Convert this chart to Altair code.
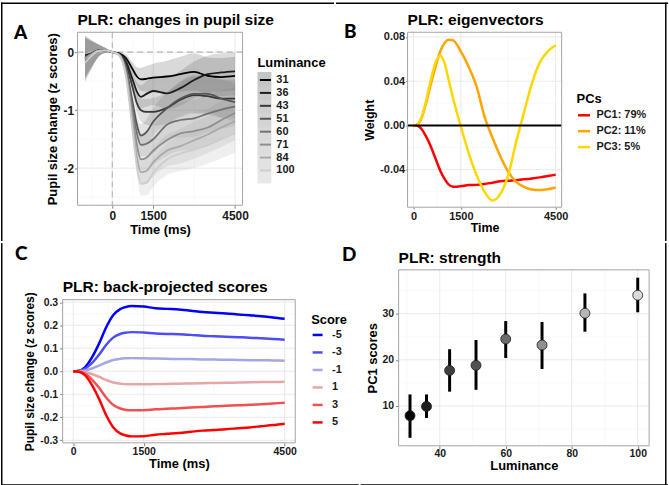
import altair as alt
import pandas as pd

FONT = "Liberation Sans"
LETTER_FONT = "Lato"

# ---------------- Panel A: changes in pupil size ----------------
a_time = [-1000, -750, -500, -250, 0, 250, 500, 750, 900, 1050, 1250, 1500, 2000, 2500, 3000, 3500, 4000, 4500]
a_luminance = ["31", "36", "43", "51", "60", "71", "84", "100"]
a_31 = [-0.06, -0.02, 0.03, 0.03, 0.00, -0.02, -0.10, -0.30, -0.42, -0.47, -0.46, -0.44, -0.42, -0.38, -0.34, -0.41, -0.43, -0.41]
a_36 = [-0.10, -0.03, 0.03, 0.03, 0.00, -0.03, -0.16, -0.48, -0.68, -0.77, -0.72, -0.67, -0.71, -0.62, -0.48, -0.38, -0.35, -0.33]
a_43 = [-0.12, -0.04, 0.02, 0.03, 0.00, -0.03, -0.20, -0.62, -0.88, -1.00, -1.03, -1.03, -0.96, -0.82, -0.74, -0.76, -0.80, -0.80]
a_51 = [-0.08, -0.02, 0.03, 0.03, 0.00, -0.04, -0.28, -0.88, -1.25, -1.44, -1.38, -1.20, -0.97, -0.80, -0.72, -0.72, -0.80, -0.86]
a_60 = [-0.15, -0.05, 0.02, 0.03, 0.00, -0.04, -0.30, -0.98, -1.40, -1.60, -1.58, -1.50, -1.25, -1.17, -1.14, -1.06, -0.99, -0.94]
a_71 = [-0.10, -0.03, 0.03, 0.03, 0.00, -0.05, -0.34, -1.12, -1.60, -1.85, -1.82, -1.70, -1.52, -1.40, -1.36, -1.30, -1.17, -1.05]
a_84 = [-0.12, -0.04, 0.02, 0.03, 0.00, -0.05, -0.38, -1.25, -1.80, -2.07, -2.05, -1.90, -1.70, -1.62, -1.52, -1.42, -1.30, -1.19]
a_100 = [-0.18, -0.06, 0.02, 0.03, 0.00, -0.05, -0.42, -1.38, -1.97, -2.27, -2.25, -2.08, -1.85, -1.75, -1.68, -1.60, -1.50, -1.40]
a_band_halfwidth = [0.35, 0.22, 0.10, 0.04, 0.00, 0.02, 0.06, 0.12, 0.16, 0.20, 0.22, 0.24, 0.27, 0.30, 0.32, 0.32, 0.33, 0.33]
a_line_colors = ["#000000", "#1c1c1c", "#383838", "#555555", "#717171", "#8e8e8e", "#aaaaaa", "#cdcdcd"]
a_band_colors = ["#404040", "#505050", "#606060", "#707070", "#808080", "#909090", "#a0a0a0", "#b0b0b0"]
a_x_ticks = [0, 1500, 4500]
a_x_minor = [-750, 750, 3000]
a_y_ticks = [-2, -1, 0]
a_y_minor = [-2.5, -1.5, -0.5]

# ---------------- Panel B: eigenvectors ----------------
b_time = [0, 100, 250, 400, 550, 700, 850, 1000, 1100, 1250, 1500, 1750, 2000, 2250, 2500, 2750, 3000, 3250, 3500, 3750, 4000, 4250, 4500]
b_pc1 = [0, 0, -0.003, -0.010, -0.019, -0.030, -0.041, -0.049, -0.053, -0.0555, -0.055, -0.054, -0.0538, -0.053, -0.0518, -0.0506, -0.050, -0.0495, -0.0488, -0.048, -0.047, -0.0458, -0.0446]
b_pc2 = [0, 0.0005, 0.006, 0.020, 0.037, 0.053, 0.067, 0.075, 0.0775, 0.077, 0.067, 0.053, 0.035, 0.008, -0.011, -0.028, -0.042, -0.051, -0.0555, -0.058, -0.0585, -0.0578, -0.0562]
b_pc3 = [0, 0.0005, 0.007, 0.022, 0.041, 0.057, 0.0633, 0.055, 0.043, 0.025, -0.001, -0.025, -0.045, -0.060, -0.068, -0.062, -0.045, -0.015, 0.012, 0.038, 0.057, 0.067, 0.0725]
b_labels = ["PC1: 79%", "PC2: 11%", "PC3: 5%"]
b_colors = ["#ff0000", "#ffa500", "#ffd700"]
b_x_ticks = [0, 1500, 4500]
b_x_minor = [750, 3000]
b_y_ticks = [-0.04, 0.0, 0.04, 0.08]
b_y_minor = [-0.06, -0.02, 0.02, 0.06]

# ---------------- Panel C: back-projected scores ----------------
c_time = [0, 100, 250, 400, 550, 700, 850, 1000, 1100, 1250, 1500, 1750, 2000, 2250, 2500, 2750, 3000, 3250, 3500, 3750, 4000, 4250, 4500]
c_scores = ["-5", "-3", "-1", "1", "3", "5"]
c_m5 = [0, 0.001, 0.017, 0.060, 0.120, 0.190, 0.243, 0.270, 0.278, 0.284, 0.281, 0.274, 0.271, 0.268, 0.263, 0.257, 0.254, 0.251, 0.247, 0.243, 0.239, 0.234, 0.228]
c_m3 = [0, 0.001, 0.010, 0.036, 0.072, 0.114, 0.146, 0.162, 0.167, 0.170, 0.168, 0.164, 0.162, 0.161, 0.158, 0.154, 0.152, 0.150, 0.148, 0.146, 0.143, 0.140, 0.137]
c_m1 = [0, 0.000, 0.003, 0.012, 0.024, 0.038, 0.049, 0.054, 0.056, 0.057, 0.056, 0.055, 0.054, 0.053, 0.053, 0.051, 0.051, 0.050, 0.049, 0.048, 0.048, 0.047, 0.046]
c_p1 = [0, 0.000, -0.003, -0.012, -0.024, -0.038, -0.049, -0.054, -0.056, -0.057, -0.057, -0.056, -0.055, -0.054, -0.053, -0.052, -0.051, -0.050, -0.049, -0.048, -0.047, -0.047, -0.046]
c_p3 = [0, -0.001, -0.010, -0.036, -0.072, -0.114, -0.146, -0.162, -0.167, -0.170, -0.169, -0.165, -0.163, -0.161, -0.158, -0.155, -0.152, -0.150, -0.148, -0.146, -0.143, -0.140, -0.137]
c_p5 = [0, -0.001, -0.017, -0.060, -0.120, -0.190, -0.243, -0.270, -0.278, -0.283, -0.282, -0.276, -0.272, -0.268, -0.263, -0.258, -0.255, -0.252, -0.248, -0.244, -0.239, -0.234, -0.228]
c_colors = ["#0000ff", "#4d4df5", "#a6a6e6", "#e6a6a6", "#f05050", "#ff0000"]
c_x_ticks = [0, 1500, 4500]
c_x_minor = [750, 3000]
c_y_ticks = [-0.3, -0.2, -0.1, 0.0, 0.1, 0.2, 0.3]
c_y_minor = [-0.25, -0.15, -0.05, 0.05, 0.15, 0.25]

# ---------------- Panel D: strength ----------------
d_luminance = [31, 36, 43, 51, 60, 71, 84, 100]
d_score = [7.9, 9.9, 17.7, 18.8, 24.5, 23.2, 30.1, 34.0]
d_low = [3.1, 7.4, 13.1, 13.5, 20.4, 18.0, 26.1, 30.3]
d_high = [12.5, 12.5, 22.3, 24.3, 28.4, 28.2, 34.4, 37.8]
d_fill = ["#050505", "#1f1f1f", "#3f3f3f", "#525252", "#6b6b6b", "#909090", "#b6b6b6", "#dadada"]
d_x_ticks = [40, 60, 80, 100]
d_x_minor = [30, 50, 70, 90]
d_y_ticks = [10, 20, 30]
d_y_minor = [5, 15, 25, 35]

# ---------------- tables ----------------
a_series = [a_31, a_36, a_43, a_51, a_60, a_71, a_84, a_100]
a_rows = []
for lum, ys in zip(a_luminance, a_series):
    for t, y, hw in zip(a_time, ys, a_band_halfwidth):
        a_rows.append({"time": t, "lum": lum, "band": lum, "z": y, "lo": y - hw, "hi": y + hw})
a_df = pd.DataFrame(a_rows)

b_rows = []
for lab, ys in zip(b_labels, [b_pc1, b_pc2, b_pc3]):
    for t, y in zip(b_time, ys):
        b_rows.append({"time": t, "pc": lab, "w": y})
b_df = pd.DataFrame(b_rows)

c_rows = []
for s, ys in zip(c_scores, [c_m5, c_m3, c_m1, c_p1, c_p3, c_p5]):
    for t, y in zip(c_time, ys):
        c_rows.append({"time": t, "score": s, "v": y})
c_df = pd.DataFrame(c_rows)

d_df = pd.DataFrame({"lum": d_luminance, "lumc": [str(v) for v in d_luminance],
                     "score": d_score, "lo": d_low, "hi": d_high})

one = pd.DataFrame({"k": [0]})


# ---------------- helpers ----------------
def axis(title, values, offset, fmt=None, label_size=11, title_size=13, label_pad=2,
         title_pad=3, tick=3):
    kw = dict(title=title, values=values, offset=offset, grid=False, domain=False, ticks=True,
              tickColor="#7f7f7f", tickSize=tick, tickWidth=1,
              labelFont=FONT, labelFontWeight="bold", labelFontSize=label_size, labelColor="#1a1a1a",
              labelPadding=label_pad, labelFlush=False,
              titleFont=FONT, titleFontWeight="bold", titleFontSize=title_size, titleColor="black",
              titlePadding=title_pad)
    if fmt:
        kw["format"] = fmt
    return alt.Axis(**kw)


def hedge(x1, x2, y):
    return alt.Chart(one).mark_rule(color="black", strokeWidth=1.5).encode(
        x=alt.value(x1), x2=alt.value(x2), y=alt.value(y))


def vedge(x, y1, y2):
    return alt.Chart(one).mark_rule(color="black", strokeWidth=1.5).encode(
        x=alt.value(x), y=alt.value(y1), y2=alt.value(y2))


def text_at(txt, x, y, size, font=FONT, weight="bold"):
    return alt.Chart(one).mark_text(text=txt, align="left", baseline="alphabetic",
                                    fontSize=size, font=font, fontWeight=weight,
                                    color="black").encode(x=alt.value(x), y=alt.value(y))


def frame(x1, x2, y1, y2):
    return alt.Chart(one).mark_rect(fillOpacity=0, stroke="#a3a3a3", strokeWidth=1).encode(
        x=alt.value(x1), x2=alt.value(x2), y=alt.value(y1), y2=alt.value(y2))


def grids(xsc, ysc, xax, yax, box, xmaj, xmin, ymaj, ymin):
    x1, x2, y1, y2 = box
    out = []
    for vals, w, col in [(xmin, 0.5, "#f2f2f2"), (xmaj, 0.9, "#e6e6e6")]:
        out.append(alt.Chart(pd.DataFrame({"g": vals})).mark_rule(color=col, strokeWidth=w).encode(
            x=alt.X("g:Q", scale=xsc, axis=xax), y=alt.value(y1), y2=alt.value(y2)))
    for vals, w, col in [(ymin, 0.5, "#f2f2f2"), (ymaj, 0.9, "#e6e6e6")]:
        out.append(alt.Chart(pd.DataFrame({"g": vals})).mark_rule(color=col, strokeWidth=w).encode(
            y=alt.Y("g:Q", scale=ysc, axis=yax), x=alt.value(x1), x2=alt.value(x2)))
    return out


def legend(title, x, y, size, stype="stroke", **kw):
    base = dict(orient="none", legendX=x, legendY=y, padding=0, symbolType=stype, symbolSize=size,
                titleFont=FONT, titleFontSize=13, titleFontWeight="bold", titleColor="black",
                titlePadding=2, labelFont=FONT, labelFontSize=11, labelFontWeight="bold",
                labelColor="#1a1a1a", rowPadding=3, labelOffset=5)
    base.update(kw)
    return alt.Legend(title=title, **base)


# ---------------- Panel A (cell 335 x 240) ----------------
A_box = (77, 243, 30, 204)
a_xsc = alt.Scale(domain=[-1275, 4775], range=[77, 243], nice=False, zero=False)
a_ysc = alt.Scale(domain=[-2.64, 0.343], range=[204, 30], nice=False, zero=False)
a_xax = axis("Time (ms)", a_x_ticks, -36, fmt="d", label_size=12, label_pad=2, title_pad=2)
a_yax = axis("Pupil size change (z scores)", a_y_ticks, -77, label_size=12, label_pad=1, title_pad=3)

a_band = alt.Chart(a_df).mark_area(fillOpacity=0.2, interpolate="monotone").encode(
    x=alt.X("time:Q", scale=a_xsc, axis=a_xax),
    y=alt.Y("lo:Q", scale=a_ysc, axis=a_yax), y2="hi:Q",
    fill=alt.Fill("band:N", sort=a_luminance,
                  scale=alt.Scale(range=a_band_colors),
                  legend=legend(None, 258, 70, 196, stype="square", rowPadding=0,
                                symbolOpacity=0.3, labelExpr="''", symbolStrokeWidth=0)))
a_dash = [
    alt.Chart(pd.DataFrame({"g": [0]})).mark_rule(color="#b5b5b5", strokeDash=[6, 4], strokeWidth=1.1).encode(
        y=alt.Y("g:Q", scale=a_ysc, axis=a_yax), x=alt.value(77), x2=alt.value(243)),
    alt.Chart(pd.DataFrame({"g": [0]})).mark_rule(color="#b5b5b5", strokeDash=[6, 4], strokeWidth=1.1).encode(
        x=alt.X("g:Q", scale=a_xsc, axis=a_xax), y=alt.value(30), y2=alt.value(204)),
]
a_lines = alt.Chart(a_df).mark_line(strokeWidth=1.8, interpolate="monotone").encode(
    x=alt.X("time:Q", scale=a_xsc, axis=a_xax),
    y=alt.Y("z:Q", scale=a_ysc, axis=a_yax),
    stroke=alt.Stroke("lum:N", sort=a_luminance,
                      scale=alt.Scale(range=a_line_colors),
                      legend=legend("Luminance", 258, 55, 196, stype="M-0.8,0H0.8", rowPadding=0,
                                    labelOffset=3, symbolStrokeWidth=2)))
panel_a = alt.layer(
    *grids(a_xsc, a_ysc, a_xax, a_yax, A_box, a_x_ticks, a_x_minor, a_y_ticks, a_y_minor),
    a_band, *a_dash, a_lines, frame(*A_box),
    vedge(0.75, 0, 240), hedge(0, 335, 0.75),
    text_at("PLR: changes in pupil size", 77, 23, 15.6),
    text_at("A", 13, 37, 19, font=LETTER_FONT, weight=900),
).properties(width=335, height=240)

# ---------------- Panel B (cell 334 x 240) ----------------
B_box = (72, 227, 30, 206)
b_xsc = alt.Scale(domain=[-185, 4690], range=[72, 227], nice=False, zero=False)
b_ysc = alt.Scale(domain=[-0.074, 0.0842], range=[206, 30], nice=False, zero=False)
b_xax = axis("Time", b_x_ticks, -34, fmt="d", label_size=11, title_size=12.5, label_pad=1,
             title_pad=0, tick=2)
b_yax = axis("Weight", b_y_ticks, -72, ".2f", label_size=11, title_size=12.5, label_pad=1,
             title_pad=3, tick=2)
b_lines = alt.Chart(b_df).mark_line(strokeWidth=2.5, interpolate="monotone").encode(
    x=alt.X("time:Q", scale=b_xsc, axis=b_xax),
    y=alt.Y("w:Q", scale=b_ysc, axis=b_yax),
    stroke=alt.Stroke("pc:N", sort=b_labels, scale=alt.Scale(domain=b_labels, range=b_colors),
                      legend=legend("PCs", 242, 91, 144, rowPadding=3, labelOffset=5,
                                    symbolStrokeWidth=2.5)))
b_zero = alt.Chart(pd.DataFrame({"g": [0]})).mark_rule(color="black", strokeWidth=2).encode(
    y=alt.Y("g:Q", scale=b_ysc, axis=b_yax), x=alt.value(72), x2=alt.value(227))
panel_b = alt.layer(
    *grids(b_xsc, b_ysc, b_xax, b_yax, B_box, b_x_ticks, b_x_minor, b_y_ticks, b_y_minor),
    b_lines, b_zero, frame(*B_box),
    hedge(0, 334, 0.75), vedge(331.75, 0, 240),
    text_at("PLR: eigenvectors", 72, 23, 15.6),
    text_at("B", 8, 36, 19, font=LETTER_FONT, weight=900),
).properties(width=334, height=240)

# ---------------- Panel C (cell 360 x 245) ----------------
C_box = (62, 296, 57, 201)
c_xsc = alt.Scale(domain=[-225, 4725], range=[62, 296], nice=False, zero=False)
c_ysc = alt.Scale(domain=[-0.311, 0.311], range=[201, 57], nice=False, zero=False)
c_xax = axis("Time (ms)", c_x_ticks, -44, fmt="d", label_size=10.5, title_size=13, label_pad=1,
             title_pad=0)
c_yax = axis("Pupil size change (z scores)", c_y_ticks, -62, ".1f", label_size=10.5,
             title_size=12, label_pad=2, title_pad=3)
c_lines = alt.Chart(c_df).mark_line(strokeWidth=2.5, interpolate="monotone").encode(
    x=alt.X("time:Q", scale=c_xsc, axis=c_xax),
    y=alt.Y("v:Q", scale=c_ysc, axis=c_yax),
    stroke=alt.Stroke("score:N", sort=c_scores, scale=alt.Scale(domain=c_scores, range=c_colors),
                      legend=legend("Score", 312, 71, 100, rowPadding=5.6, labelOffset=8,
                                    symbolStrokeWidth=2.5)))
panel_c = alt.layer(
    *grids(c_xsc, c_ysc, c_xax, c_yax, C_box, c_x_ticks, c_x_minor, c_y_ticks, c_y_minor),
    c_lines, frame(*C_box),
    vedge(0.75, 0, 245), hedge(0, 360, 243.5),
    text_at("PLR: back-projected scores", 62, 49, 15.6),
    text_at("C", 14, 17, 19, font=LETTER_FONT, weight=900),
    text_at("D", 343, 18, 19, font=LETTER_FONT, weight=900),
).properties(width=360, height=245)

# ---------------- Panel D (cell 309 x 245) ----------------
D_box = (38, 290, 27, 204)
d_xsc = alt.Scale(domain=[27.55, 103.45], range=[38, 290], nice=False, zero=False)
d_ysc = alt.Scale(domain=[1.37, 39.5], range=[204, 27], nice=False, zero=False)
d_xax = axis("Luminance", d_x_ticks, -41, label_size=10.5, title_size=13, label_pad=0, title_pad=0)
d_yax = axis("PC1 scores", d_y_ticks, -38, label_size=10.5, title_size=13, label_pad=2, title_pad=3)
d_err = alt.Chart(d_df).mark_rule(color="black", strokeWidth=3).encode(
    x=alt.X("lum:Q", scale=d_xsc, axis=d_xax),
    y=alt.Y("lo:Q", scale=d_ysc, axis=d_yax), y2="hi:Q")
d_pts = alt.Chart(d_df).mark_circle(size=100, opacity=1, stroke="#1a1a1a", strokeWidth=0.8).encode(
    x=alt.X("lum:Q", scale=d_xsc, axis=d_xax),
    y=alt.Y("score:Q", scale=d_ysc, axis=d_yax),
    color=alt.Color("lumc:N", scale=alt.Scale(domain=[str(v) for v in d_luminance], range=d_fill),
                    legend=None))
panel_d = alt.layer(
    *grids(d_xsc, d_ysc, d_xax, d_yax, D_box, d_x_ticks, d_x_minor, d_y_ticks, d_y_minor),
    d_err, d_pts, frame(*D_box),
    hedge(0, 309, 243.5), vedge(306.75, 0, 245),
    text_at("PLR: strength", 38, 20, 15.6),
).properties(width=309, height=245)

res = dict(stroke="independent", fill="independent", color="independent")
chart = alt.vconcat(
    alt.hconcat(panel_a, panel_b, spacing=0).resolve_scale(**res),
    alt.hconcat(panel_c, panel_d, spacing=0).resolve_scale(**res),
    spacing=0,
).resolve_scale(**res).properties(padding=0).configure(
    font=FONT, background="white",
    locale={"number": {"decimal": ".", "thousands": ",", "grouping": [3],
                       "currency": ["$", ""], "minus": "-"}},
).configure_view(strokeOpacity=0)

chart.save("out.html", embed_options={"renderer": "svg", "actions": False})
